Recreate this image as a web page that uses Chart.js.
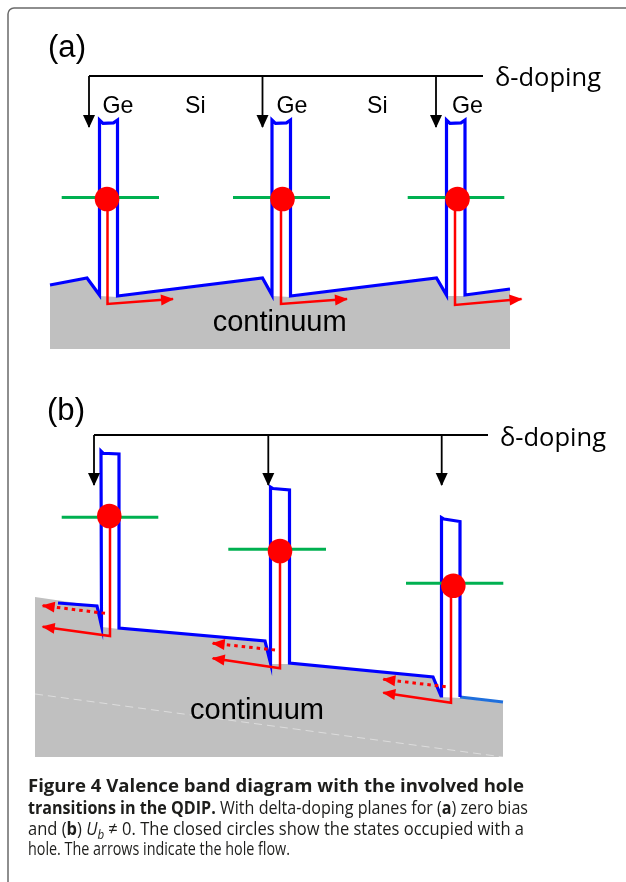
<!DOCTYPE html>
<html><head><meta charset="utf-8">
<script src="https://cdn.jsdelivr.net/npm/chart.js@4/dist/chart.umd.min.js"></script>
<style>html,body{margin:0;padding:0;background:#fff}canvas{display:block}</style>
</head><body>
<canvas id="c" width="626" height="882"></canvas>
<script>
// ---------- DATA (diagram coordinates: x = position, y = hole energy, downward) ----------
// Panel (a) zero bias
const bandA = [[50,285],[87,278],[99.5,295],[99.5,120],[103,123.3],[113.5,122.8],[117.5,120],[117.5,296],
  [262.5,278],[272,295],[272,120],[275.5,123.3],[286.5,122.8],[290.5,120],[290.5,296],
  [436.5,278],[446.5,295],[446.5,120],[450,123.3],[461,122.8],[465,120],[465,295],[510,289]];
const continuumA = [[50,286],[87,279],[99.5,296],[117.5,297],[262.5,279],[272,296],[290.5,297],
  [436.5,279],[446.5,296],[465,296],[510,290]];
const continuumA_floor = 349;
const levelsA = [[61.7,159,197.5],[233,330,197.5],[407.7,504.3,197.5]];
const holesA = [[107,199],[282.5,199],[457.5,199]];
const flowA = [[[107.5,199],[107.5,304],[173,299]],[[281,199],[281,304],[347,299]],[[455,199],[455,305],[521.5,299]]];
const dopingA = {y:76, x:[89,262.5,436], end:483, tip:127};

// Panel (b) U_b != 0
const bandB = [[58,603],[97,606],[101.5,626],[101,451],[103.3,453.3],[119,454],[119,628],
  [265,641],[270.5,663],[270.5,487],[273,488.5],[289.5,490],[289.5,663],
  [433,677],[441,696],[441.5,517.5],[444,519],[460,521.5],[460,697]];
const bandB_tail = [[460,697],[503,702]];
const continuumB = [[35,597],[97,606],[102,627],[119,629],[265,642],[271,664],[289.5,664],
  [433,678],[441,697],[460,698],[503,703]];
const continuumB_floor = 757;
const seamB = [[35,694],[503,757]];
const levelsB = [[61.7,158.3,517.3],[228.3,326,549.3],[406,503.3,583.3]];
const holesB = [[109.3,516],[280,551],[453.3,585.7]];
const flowB = [[[110,516],[110,636],[42.7,626.7]],[[280,551],[280,668.3],[212.7,658.3]],[[451,585.7],[451,702.7],[383.3,692.7]]];
const flowB_dotted = [[[105,613.3],[42.7,605.7]],[[275,650],[212.7,643.3]],[[445.7,686.7],[383.3,679.3]]];
const dopingB = {y:435, x:[94,268.3,441.7], end:488, tip:485};

// Labels
const panelLabels = ['(a)','(b)'];
const wellLabels = ['Ge','Si','Ge','Si','Ge'];
const wellLabelX = [102.5,185,276.5,367,452];
const dopingLabel = '\u03b4-doping';
const continuumLabel = 'continuum';
const captionLines = [
  [['Figure 4 Valence band diagram with the involved hole','b']],
  [['transitions in the QDIP.','b'],[' With delta-doping planes for (','r'],['a','b'],[') zero bias','r']],
  [['and (','r'],['b','b'],[') ','r'],['U','i'],['b','s'],[' \u2260 0. The closed circles show the states occupied with a','r']],
  [['hole. The arrows indicate the hole flow.','r']]
];

// ---------- BUILD DATASETS ----------
const toPts = a => a.map(([x,y]) => ({x, y}));
const ds = [];
function addLine(points, color, width, order, extra) {
  ds.push(Object.assign({type:'line', data: toPts(points), borderColor: color, backgroundColor: color,
    borderWidth: width, pointRadius: 0, pointHoverRadius: 0, fill: false, tension: 0, order,
    borderJoinStyle: 'miter', borderCapStyle: 'butt'}, extra || {}));
}
const BLUE = '#0000ff', RED = '#ff0000', GREEN = '#00b050', GRAY = '#c0c0c0';

// continuum fills
addLine(continuumA, 'rgba(0,0,0,0)', 1, 30, {fill: {value: continuumA_floor}, backgroundColor: GRAY});
addLine(continuumB, 'rgba(0,0,0,0)', 1, 30, {fill: {value: continuumB_floor}, backgroundColor: GRAY});
addLine(seamB, 'rgba(255,255,255,0.45)', 1, 29, {borderDash: [8,5]});
// bands
addLine(bandA, BLUE, 3.2, 10);
addLine(bandB, BLUE, 3.2, 10);
addLine(bandB_tail, '#1f6fdc', 3.2, 10);
// levels
[...levelsA, ...levelsB].forEach(([x0,x1,y]) => addLine([[x0,y],[x1,y]], GREEN, 3, 8));
// hole flow
[...flowA, ...flowB].forEach(p => addLine(p, RED, 2.5, 6, {arrowHead: {len: 12, half: 5.5}}));
flowB_dotted.forEach(p => addLine(p, RED, 3, 6, {borderDash: [3.5,4], arrowHead: {len: 12, half: 5.5}}));
// delta-doping brackets
[dopingA, dopingB].forEach(d => {
  addLine([[d.x[0], d.y],[d.end, d.y]], '#000', 1.8, 9);
  d.x.forEach(x => addLine([[x, d.y],[x, d.tip]], '#000', 1.8, 9, {arrowHead: {len: 12, half: 6}}));
});
// occupied states
ds.push({type:'scatter', data: toPts([...holesA, ...holesB]), showLine: false, pointRadius: 12.3,
  pointHoverRadius: 12.3, pointBackgroundColor: RED, pointBorderColor: RED, pointBorderWidth: 0, order: 1});

// ---------- DECORATION PLUGIN ----------
const decor = {
  id: 'decor',
  afterDatasetsDraw(chart) {
    const ctx = chart.ctx;
    chart.data.datasets.forEach((d, i) => {
      if (!d.arrowHead) return;
      const pts = chart.getDatasetMeta(i).data;
      const a = pts[pts.length - 2], b = pts[pts.length - 1];
      const ang = Math.atan2(b.y - a.y, b.x - a.x);
      const {len, half} = d.arrowHead;
      ctx.save();
      ctx.translate(b.x, b.y); ctx.rotate(ang);
      ctx.beginPath(); ctx.moveTo(1, 0); ctx.lineTo(-len, -half); ctx.lineTo(-len, half); ctx.closePath();
      ctx.fillStyle = d.borderColor; ctx.fill();
      ctx.restore();
    });
  },
  afterDraw(chart) {
    const ctx = chart.ctx, sx = chart.scales.x, sy = chart.scales.y;
    const X = v => sx.getPixelForValue(v), Y = v => sy.getPixelForValue(v);
    ctx.save();
    // frame
    ctx.strokeStyle = '#6a6a6a'; ctx.lineWidth = 1.5;
    ctx.beginPath(); ctx.moveTo(8, 882); ctx.lineTo(8, 14); ctx.arcTo(8, 8, 14, 8, 6); ctx.lineTo(626, 8); ctx.stroke();

    ctx.fillStyle = '#000'; ctx.textBaseline = 'alphabetic'; ctx.textAlign = 'left';
    function fitText(t, x, y, font, w) {
      ctx.font = font;
      const m = ctx.measureText(t).width;
      ctx.save(); ctx.translate(X(x), Y(y)); if (w) ctx.scale(w / m, 1); ctx.fillText(t, 0, 0); ctx.restore();
    }
    fitText(panelLabels[0], 48, 56.5, '31px "Liberation Sans"', 38);
    fitText(panelLabels[1], 47, 420, '31px "Liberation Sans"', 38);
    wellLabels.forEach((t, i) => fitText(t, wellLabelX[i], 113, '24px "Liberation Sans"', t === 'Ge' ? 31 : 20.5));
    fitText(dopingLabel, 495, 86, '25px "Open Sans"', 106);
    fitText(dopingLabel, 500, 445.5, '25px "Open Sans"', 106);
    fitText(continuumLabel, 212.7, 331, '29px "Liberation Sans"', 134);
    fitText(continuumLabel, 190, 718.5, '29px "Liberation Sans"', 134);

    // caption
    const targets = [496, 500, 496, 262];
    const bases = [792, 813.5, 834.5, 854.5];
    const size = 18.5;
    const fonts = {b: `700 ${size}px "Open Sans"`, r: `400 ${size}px "Open Sans"`,
      i: `italic 400 ${size}px "Open Sans"`, s: `italic 400 ${size*0.7}px "Open Sans"`};
    ctx.fillStyle = '#1d1d1b';
    captionLines.forEach((spans, li) => {
      let w = 0;
      spans.forEach(([t, s]) => { ctx.font = fonts[s]; w += ctx.measureText(t).width; });
      const k = targets[li] / w;
      ctx.save(); ctx.translate(28, bases[li]); ctx.scale(k, 1);
      let cx = 0;
      spans.forEach(([t, s]) => { ctx.font = fonts[s]; ctx.fillText(t, cx, s === 's' ? 4 : 0); cx += ctx.measureText(t).width; });
      ctx.restore();
    });
    ctx.restore();
  }
};

new Chart(document.getElementById('c'), {
  type: 'scatter',
  data: {datasets: ds},
  options: {
    responsive: false, animation: false, events: [],
    layout: {padding: 0, autoPadding: false},
    scales: {
      x: {type: 'linear', min: 0, max: 626, display: false},
      y: {type: 'linear', min: 0, max: 882, reverse: true, display: false}
    },
    plugins: {legend: {display: false}, tooltip: {enabled: false}}
  },
  plugins: [decor]
});
</script>
</body></html>
